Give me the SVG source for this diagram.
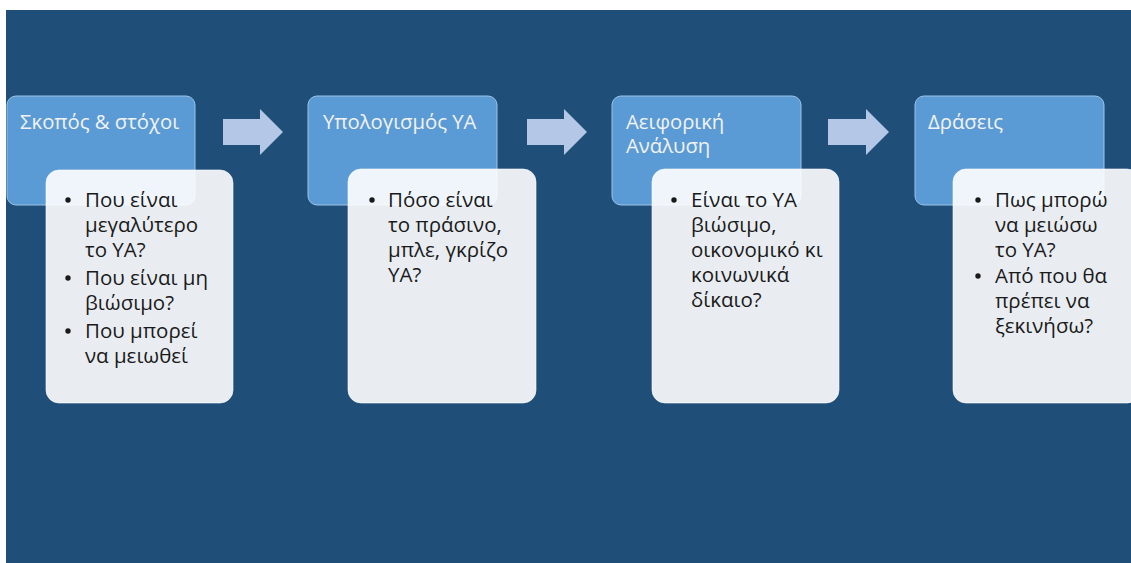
<svg xmlns="http://www.w3.org/2000/svg" width="1131" height="563" viewBox="0 0 1131 563">
<style>
.bg{fill:#1F4E79}
.head{fill:#5B9BD5;stroke:#9DC3E6;stroke-width:1}
.card{fill:#FFFFFF;fill-opacity:0.9;stroke:#FFFFFF;stroke-opacity:0.6;stroke-width:1}
.title{font-family:"Open Sans","Noto Sans",sans-serif;font-size:20.3px;fill:#F2F2F2}
.body{font-family:"Open Sans","Noto Sans",sans-serif;font-size:20.5px;fill:#1A1A1A}
.arrow{fill:#B4C7E7}
</style>
<rect x="0" y="0" width="1131" height="563" fill="#FFFFFF"/>
<rect class="bg" x="6" y="10" width="1125" height="553"/>
<g id="connectors">
<polygon class="arrow" points="223,119 260,119 260,109 283,132 260,155 260,145 223,145"/>
<polygon class="arrow" points="527,119 564,119 564,109 587,132 564,155 564,145 527,145"/>
<polygon class="arrow" points="828,119 866,119 866,109 889,132 866,155 866,145 828,145"/>
</g>
<g id="node1">
<rect class="head" x="7" y="96" width="188" height="109" rx="9"/>
<text class="title" x="20" y="129">Σκοπός &amp; στόχοι</text>
<rect class="card" x="46" y="170" width="187" height="233" rx="13"/>
<g class="body">
<circle cx="68" cy="200" r="2.7" fill="#1A1A1A"/>
<text x="85" y="207">Που είναι</text>
<text x="85" y="232">μεγαλύτερο</text>
<text x="85" y="257">το ΥΑ?</text>
<circle cx="68" cy="278" r="2.7" fill="#1A1A1A"/>
<text x="85" y="285">Που είναι μη</text>
<text x="85" y="310">βιώσιμο?</text>
<circle cx="68" cy="331" r="2.7" fill="#1A1A1A"/>
<text x="85" y="338">Που μπορεί</text>
<text x="85" y="363">να μειωθεί</text>
</g>
</g>
<g id="node2">
<rect class="head" x="308" y="96" width="189" height="109" rx="9"/>
<text class="title" x="323" y="129">Υπολογισμός ΥΑ</text>
<rect class="card" x="348" y="169" width="188" height="234" rx="13"/>
<g class="body">
<circle cx="372" cy="200" r="2.7" fill="#1A1A1A"/>
<text x="388" y="207">Πόσο είναι</text>
<text x="388" y="232">το πράσινο,</text>
<text x="388" y="257">μπλε, γκρίζο</text>
<text x="388" y="282">ΥΑ?</text>
</g>
</g>
<g id="node3">
<rect class="head" x="612" y="96" width="189" height="109" rx="9"/>
<text class="title" x="626" y="129">Αειφορική</text>
<text class="title" x="626" y="153">Ανάλυση</text>
<rect class="card" x="652" y="169" width="187" height="234" rx="13"/>
<g class="body">
<circle cx="674" cy="200" r="2.7" fill="#1A1A1A"/>
<text x="691" y="207">Είναι το ΥΑ</text>
<text x="691" y="232">βιώσιμο,</text>
<text x="691" y="257">οικονομικό κι</text>
<text x="691" y="282">κοινωνικά</text>
<text x="691" y="307">δίκαιο?</text>
</g>
</g>
<g id="node4">
<rect class="head" x="915" y="96" width="189" height="109" rx="9"/>
<text class="title" x="928" y="129">Δράσεις</text>
<rect class="card" x="953" y="169" width="187" height="234" rx="13"/>
<g class="body">
<circle cx="978" cy="200" r="2.7" fill="#1A1A1A"/>
<text x="995" y="207">Πως μπορώ</text>
<text x="995" y="232">να μειώσω</text>
<text x="995" y="257">το ΥΑ?</text>
<circle cx="978" cy="276" r="2.7" fill="#1A1A1A"/>
<text x="995" y="283">Από που θα</text>
<text x="995" y="308">πρέπει να</text>
<text x="995" y="333">ξεκινήσω?</text>
</g>
</g>
</svg>
